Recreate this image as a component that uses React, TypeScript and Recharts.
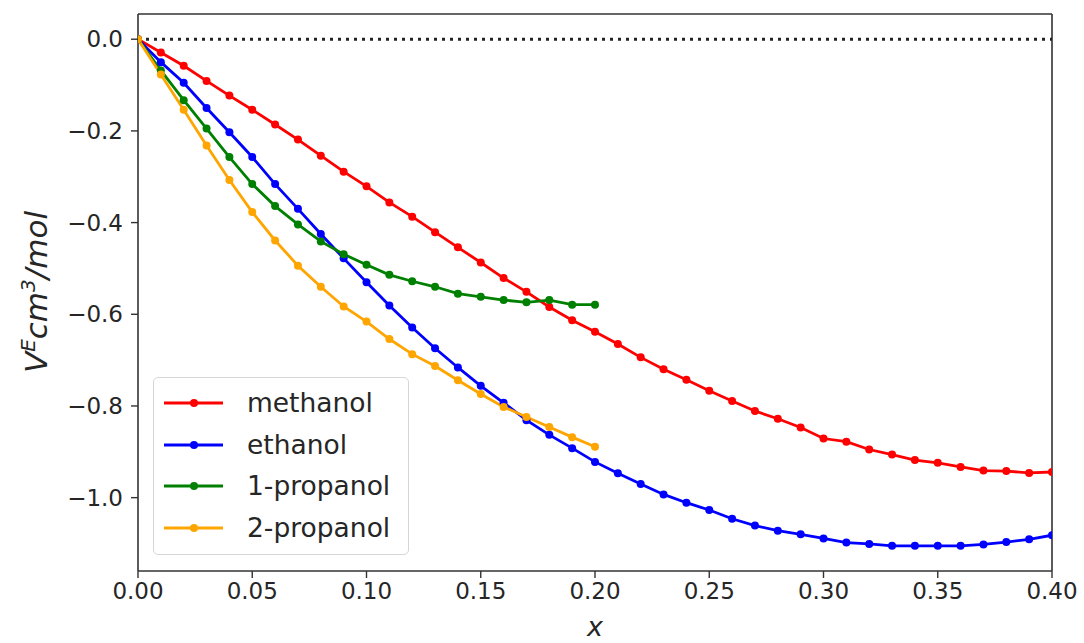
import React from "react";
import { LineChart, Line, XAxis, YAxis, ReferenceLine } from "recharts";

const xValues = [0, 0.01, 0.02, 0.03, 0.04, 0.05, 0.06, 0.07, 0.08, 0.09, 0.1, 0.11, 0.12, 0.13, 0.14, 0.15, 0.16, 0.17, 0.18, 0.19, 0.2, 0.21, 0.22, 0.23, 0.24, 0.25, 0.26, 0.27, 0.28, 0.29, 0.3, 0.31, 0.32, 0.33, 0.34, 0.35, 0.36, 0.37, 0.38, 0.39, 0.4];

const methanol = [0, -0.029, -0.058, -0.091, -0.123, -0.154, -0.186, -0.219, -0.254, -0.289, -0.321, -0.356, -0.387, -0.421, -0.454, -0.487, -0.521, -0.551, -0.584, -0.613, -0.638, -0.665, -0.694, -0.72, -0.743, -0.767, -0.789, -0.811, -0.828, -0.847, -0.871, -0.878, -0.895, -0.906, -0.918, -0.924, -0.933, -0.941, -0.942, -0.946, -0.944];

const ethanol = [0, -0.05, -0.095, -0.15, -0.203, -0.257, -0.316, -0.37, -0.425, -0.478, -0.53, -0.581, -0.629, -0.674, -0.716, -0.756, -0.793, -0.831, -0.863, -0.892, -0.922, -0.947, -0.97, -0.993, -1.011, -1.027, -1.046, -1.061, -1.072, -1.08, -1.089, -1.098, -1.101, -1.105, -1.105, -1.105, -1.105, -1.102, -1.097, -1.091, -1.082];

const propanol1 = [0, -0.068, -0.133, -0.195, -0.257, -0.316, -0.364, -0.404, -0.441, -0.469, -0.492, -0.514, -0.528, -0.54, -0.555, -0.562, -0.569, -0.574, -0.569, -0.579, -0.579];

const propanol2 = [0, -0.077, -0.154, -0.232, -0.307, -0.377, -0.439, -0.494, -0.54, -0.583, -0.616, -0.654, -0.687, -0.713, -0.744, -0.774, -0.802, -0.824, -0.846, -0.868, -0.889];

const xTicks = [0, 0.05, 0.1, 0.15, 0.2, 0.25, 0.3, 0.35, 0.4];
const yTicks = [0, -0.2, -0.4, -0.6, -0.8, -1.0];
const xDomain = [0, 0.4];
const yDomain = [-1.16, 0.055];

const seriesNames = ["methanol", "ethanol", "1-propanol", "2-propanol"];
const seriesKeys = ["methanol", "ethanol", "propanol1", "propanol2"];
const seriesColors = ["#ff0000", "#0000ff", "#008000", "#ffa500"];

const data = xValues.map((x, i) => ({
  x,
  methanol: methanol[i],
  ethanol: ethanol[i],
  propanol1: i < propanol1.length ? propanol1[i] : undefined,
  propanol2: i < propanol2.length ? propanol2[i] : undefined,
}));

const FONT = "'DejaVu Sans', sans-serif";
const TEXT = "#262626";
const FRAME = "#333";

const fmtY = (v: number) => {
  const s = Math.abs(v).toFixed(1);
  return v < -1e-9 ? "\u2212" + s : s;
};
const fmtX = (v: number) => v.toFixed(2);

const LegendBox = () => (
  <div
    style={{
      position: "absolute",
      left: 153,
      top: 377,
      width: 256,
      height: 178,
      boxSizing: "border-box",
      border: "1.5px solid #d6d6d6",
      borderRadius: 5,
      background: "rgba(255,255,255,0.85)",
      fontFamily: FONT,
    }}
  >
    {seriesNames.map((n, i) => (
      <div key={n} style={{ position: "absolute", left: 0, top: 25 + i * 41.7 - 14, height: 28, width: 256 }}>
        <svg width={70} height={28} style={{ position: "absolute", left: 8, top: 0 }}>
          <line x1={2} x2={61} y1={14} y2={14} stroke={seriesColors[i]} strokeWidth={2.8} />
          <circle cx={32} cy={14} r={4} fill={seriesColors[i]} />
        </svg>
        <span
          style={{
            position: "absolute",
            left: 93,
            top: 0,
            lineHeight: "28px",
            fontSize: 26.5,
            color: TEXT,
            whiteSpace: "nowrap",
          }}
        >
          {n}
        </span>
      </div>
    ))}
  </div>
);

const YLabel = () => (
  <text
    x={0}
    y={0}
    transform="translate(47,292) rotate(-90)"
    textAnchor="middle"
    fontFamily={FONT}
    fontStyle="italic"
    fontSize={31}
    fill={TEXT}
  >
    <tspan>V</tspan>
    <tspan dy={-12} fontSize={20}>E</tspan>
    <tspan dy={12}>cm</tspan>
    <tspan dy={-12} fontSize={20}>3</tspan>
    <tspan dy={12}>/mol</tspan>
  </text>
);

export default function App() {
  return (
    <div style={{ position: "absolute", left: 0, top: 0, width: 1084, height: 643, background: "#fff" }}>
      <LineChart width={1084} height={643} data={data} margin={{ top: 14, right: 32, bottom: 0, left: 0 }}>
        <XAxis
          dataKey="x"
          type="number"
          domain={xDomain}
          ticks={xTicks}
          tickFormatter={fmtX}
          allowDataOverflow
          height={72}
          tickSize={7}
          tickMargin={5}
          stroke={FRAME}
          strokeWidth={1.6}
          tick={{ fill: TEXT, fontSize: 23, fontFamily: FONT }}
          tickLine={{ stroke: FRAME, strokeWidth: 1.4 }}
          label={{ value: "x", position: "insideBottom", offset: 7, fill: TEXT, fontSize: 27, fontStyle: "italic", fontFamily: FONT }}
        />
        <YAxis
          type="number"
          domain={yDomain}
          ticks={yTicks}
          tickFormatter={fmtY}
          allowDataOverflow
          width={138}
          tickSize={7}
          tickMargin={8}
          stroke={FRAME}
          strokeWidth={1.6}
          tick={{ fill: TEXT, fontSize: 23, fontFamily: FONT }}
          tickLine={{ stroke: FRAME, strokeWidth: 1.4 }}
          label={<YLabel />}
        />
        <ReferenceLine y={yDomain[1]} stroke={FRAME} strokeWidth={1.6} />
        <ReferenceLine x={xDomain[1]} stroke={FRAME} strokeWidth={1.6} />
        <ReferenceLine y={0} stroke="#222" strokeWidth={3} strokeDasharray="3 5" />
        {seriesKeys.map((k, i) => (
          <Line
            key={k}
            dataKey={k}
            name={seriesNames[i]}
            type="linear"
            stroke={seriesColors[i]}
            strokeWidth={2.8}
            dot={{ r: 4, fill: seriesColors[i], stroke: seriesColors[i], strokeWidth: 0 }}
            activeDot={false}
            connectNulls={false}
            isAnimationActive={false}
          />
        ))}
      </LineChart>
      <LegendBox />
    </div>
  );
}
